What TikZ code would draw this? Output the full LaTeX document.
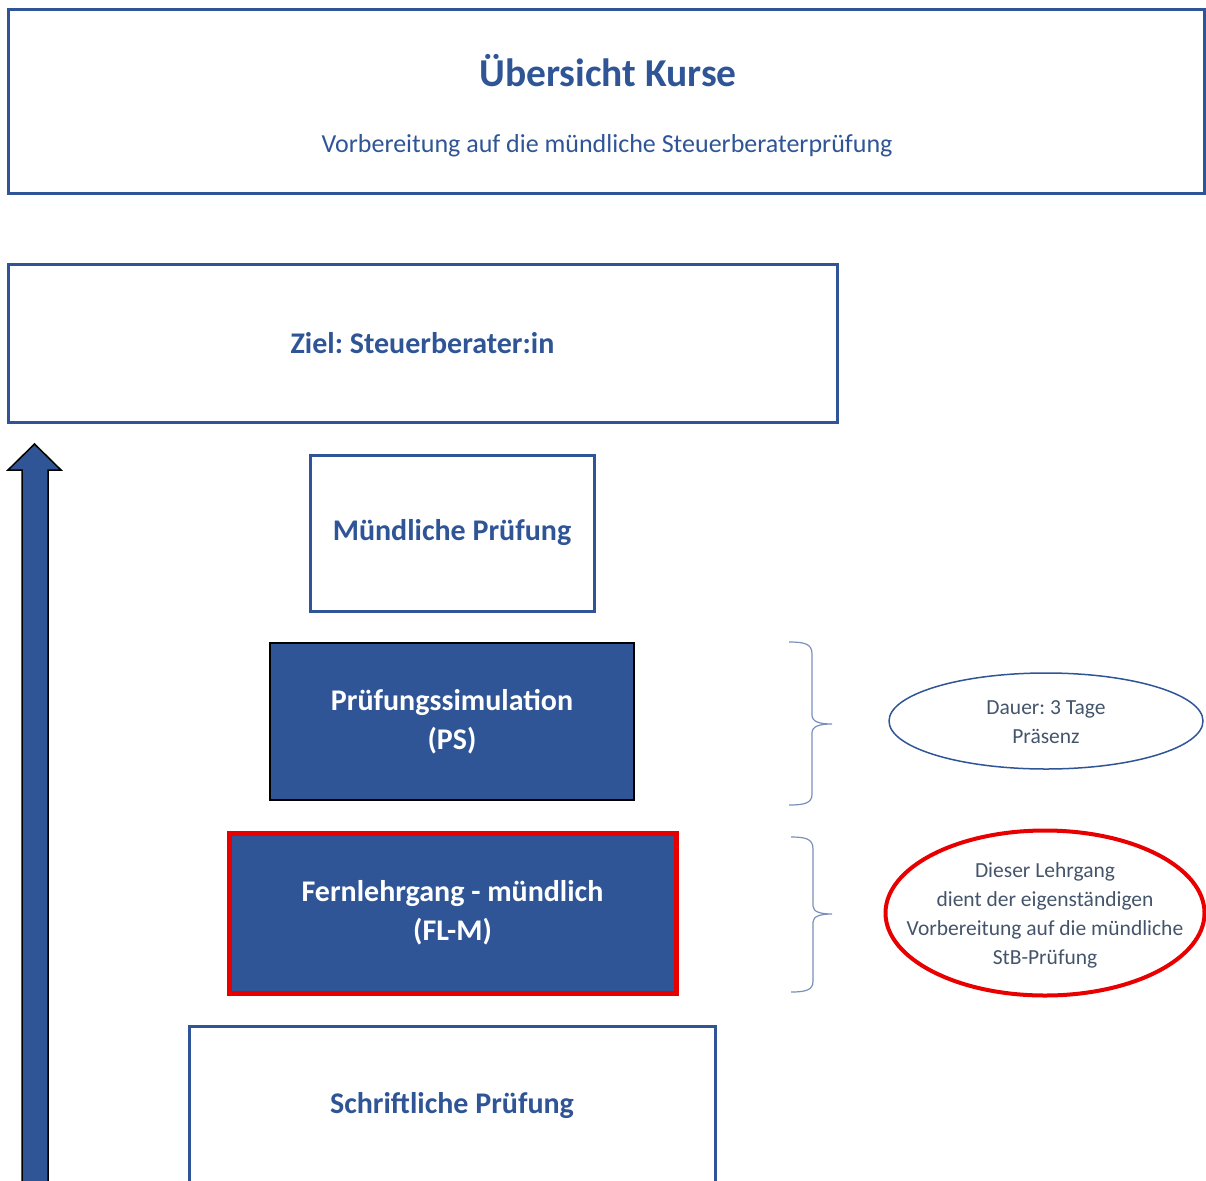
\documentclass[tikz,border=0pt]{standalone}
\usepackage{fontspec}
\setmainfont{Carlito}
\usetikzlibrary{positioning,shapes.geometric}
\definecolor{kursblau}{RGB}{47,85,151}
\definecolor{grautext}{RGB}{68,84,106}
\definecolor{kursrot}{RGB}{232,0,0}
\frenchspacing
\tikzset{
    %Define style for boxes
    kasten/.style={
           rectangle,
           draw=kursblau, line width=3pt,
           fill=white,
           text=kursblau,
           font=\bfseries\fontsize{30}{39}\selectfont,
           align=center},
    kastenvoll/.style={
           kasten,
           fill=kursblau,
           draw=black, line width=2pt,
           text=white},
    % fill=black!10,
    hinweis/.style={
           ellipse,
           draw=kursblau, line width=1.5pt,
           inner sep=0pt},
    hinweistext/.style={
           text=grautext,
           font=\fontsize{21.5}{29}\selectfont,
           align=center},
    % Define brace style
    klammer/.style={
           draw=kursblau!65, line width=1.2pt}
}
\begin{document}
\begin{tikzpicture}[x=1pt,y=-1pt]
\useasboundingbox (0,0) rectangle (1206,1180);
 %header
\node[kasten, minimum width=1196, minimum height=183] (kopf) at (606,101.5) {};
\node[text=kursblau, font=\bfseries\fontsize{39.5}{44}\selectfont] (titel) at (608,71) {Übersicht Kurse};
\node[text=kursblau, font=\fontsize{26}{30}\selectfont] (untertitel) at (607,146) {Vorbereitung auf die mündliche Steuerberaterprüfung};

 %nodes
\node[kasten, minimum width=829, minimum height=158] (ziel) at (422.5,343) {Ziel: Steuerberater:in};
\node[kasten, minimum width=284, minimum height=156] (muendlich) at (452,533) {Mündliche Prüfung};
\node[kastenvoll, minimum width=364, minimum height=157] (ps) at (452,721.5) {Prüfungssimulation\\(PS)};
\node[kastenvoll, draw=kursrot, line width=5pt, minimum width=447, minimum height=160] (flm) at (452.5,913) {Fernlehrgang - mündlich\\(FL-M)};
\node[kasten, minimum width=526, minimum height=158] (schriftlich) at (452,1105) {Schriftliche Prüfung};

\node[hinweis, minimum width=314, minimum height=96] (dauer) at (1046,721) {};
\node[hinweistext] (dauertext) at ([yshift=-1pt]dauer.center) {Dauer: 3 Tage\\Präsenz};
\node[hinweis, draw=kursrot, line width=4pt, minimum width=319, minimum height=165] (lehrgang) at (1045,913) {};
\node[hinweistext] (lehrgangtext) at ([yshift=-2pt]lehrgang.center)
    {Dieser Lehrgang\\dient der eigenständigen\\Vorbereitung auf die mündliche\\StB-Prüfung};

 %braces
\draw[klammer] (789,642) .. controls (805,642) and (812,644) .. (812,654) -- (812,715)
    .. controls (812,722) and (820,724) .. (832,724)
    .. controls (820,724) and (812,726) .. (812,733) -- (812,794)
    .. controls (812,803) and (805,805) .. (789,805);
\draw[klammer] (791,837) .. controls (806,837) and (813,839) .. (813,849) -- (813,906)
    .. controls (813,912) and (821,914) .. (832,914)
    .. controls (821,914) and (813,916) .. (813,922) -- (813,981)
    .. controls (813,990) and (806,992) .. (791,992);

 %arrow
\draw[fill=kursblau, draw=black, line width=1.5pt]
    (22,1200) -- (22,470) -- (8,470) -- (34.5,444) -- (61,470) -- (48,470) -- (48,1200) -- cycle;

\end{tikzpicture}
\end{document}
